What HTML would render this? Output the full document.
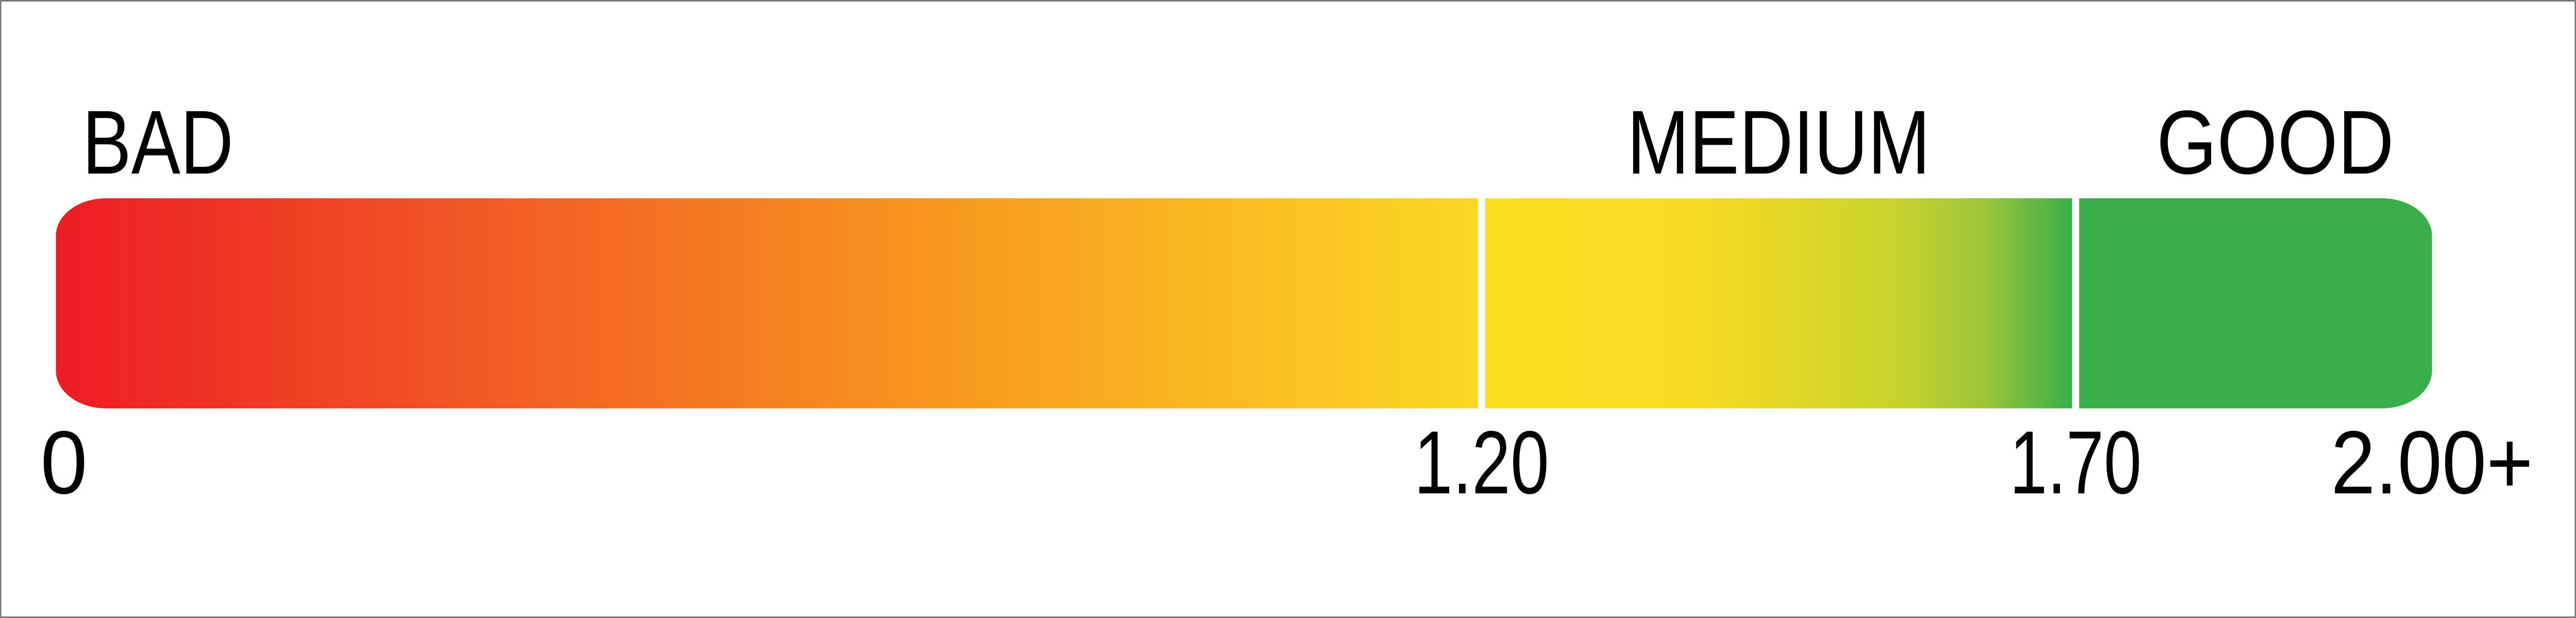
<!DOCTYPE html>
<html><head><meta charset="utf-8"><style>
html,body{margin:0;padding:0;background:#fff;overflow:hidden;width:100%;height:100%;}
svg{display:block;width:100vw;height:100vh;}
</style></head><body>
<svg id="chart" viewBox="0 0 5760 1200" preserveAspectRatio="none" xmlns="http://www.w3.org/2000/svg">
<defs>
<linearGradient id="g1" x1="0" x2="1" y1="0" y2="0">
<stop offset="0" stop-color="#ED1C24"/><stop offset="0.3" stop-color="#F15A24"/>
<stop offset="0.6" stop-color="#F7941E"/><stop offset="1" stop-color="#FBD923"/>
</linearGradient>
<linearGradient id="g2" x1="0" x2="1" y1="0" y2="0">
<stop offset="0" stop-color="#FBDD21"/><stop offset="0.35" stop-color="#F9DC22"/>
<stop offset="0.7" stop-color="#C8D22C"/><stop offset="0.85" stop-color="#9CC63A"/><stop offset="1" stop-color="#39AE4A"/>
</linearGradient>
<clipPath id="barclip"><path d="M237 385 H5326 A112 73 0 0 1 5438 458 V720 A112 73 0 0 1 5326 793 H237 A112 73 0 0 1 125 720 V458 A112 73 0 0 1 237 385 Z"/></clipPath>
</defs>
<rect x="1.5" y="1.5" width="5757" height="1197" fill="#fff" stroke="#777" stroke-width="3"/>
<g id="segs" clip-path="url(#barclip)"></g>
<g font-family="'Liberation Sans', sans-serif" font-size="176" fill="#000">
<text x="184" y="337" textLength="338" lengthAdjust="spacingAndGlyphs">BAD</text>
<text x="3638" y="337" textLength="678" lengthAdjust="spacingAndGlyphs">MEDIUM</text>
<text x="4822" y="337" textLength="531" lengthAdjust="spacingAndGlyphs">GOOD</text>
</g>
<g id="ticks" font-family="'Liberation Sans', sans-serif" font-size="174" fill="#000"></g>
</svg>
<script>
const breakpoints = [0, 1.2, 1.7, 2.0];
const tickLabels = ["0", "1.20", "1.70", "2.00+"];
const segmentNames = ["bad", "medium", "good"];
const NS = "http://www.w3.org/2000/svg";
const x0 = 125, x1 = 5438, y0 = 385, y1 = 793;
function xScale(v){ return x0 + (v - breakpoints[0]) / (breakpoints[breakpoints.length-1] - breakpoints[0]) * (x1 - x0); }
const fills = ["url(#g1)", "url(#g2)", "#39AE4A"];
const segG = document.getElementById("segs");
for (let i = 0; i < breakpoints.length - 1; i++) {
  const a = xScale(breakpoints[i]) + (i > 0 ? 8 : 0);
  const b = xScale(breakpoints[i+1]) - (i < breakpoints.length - 2 ? 8 : 0);
  const r = document.createElementNS(NS, "rect");
  r.setAttribute("x", a); r.setAttribute("y", y0);
  r.setAttribute("width", b - a); r.setAttribute("height", y1 - y0);
  r.setAttribute("fill", fills[i]);
  
  
  segG.appendChild(r);
}
const widths = [105, 302, 295, 452];
const tickG = document.getElementById("ticks");
for (let i = 0; i < breakpoints.length; i++) {
  const t = document.createElementNS(NS, "text");
  let cx = Math.max(xScale(breakpoints[i]), 143);
  t.setAttribute("x", cx - widths[i] / 2);
  t.setAttribute("y", 958);
  t.setAttribute("textLength", widths[i]);
  t.setAttribute("lengthAdjust", "spacingAndGlyphs");
  t.textContent = tickLabels[i];
  
  
  tickG.appendChild(t);
}
</script>
</body></html>
